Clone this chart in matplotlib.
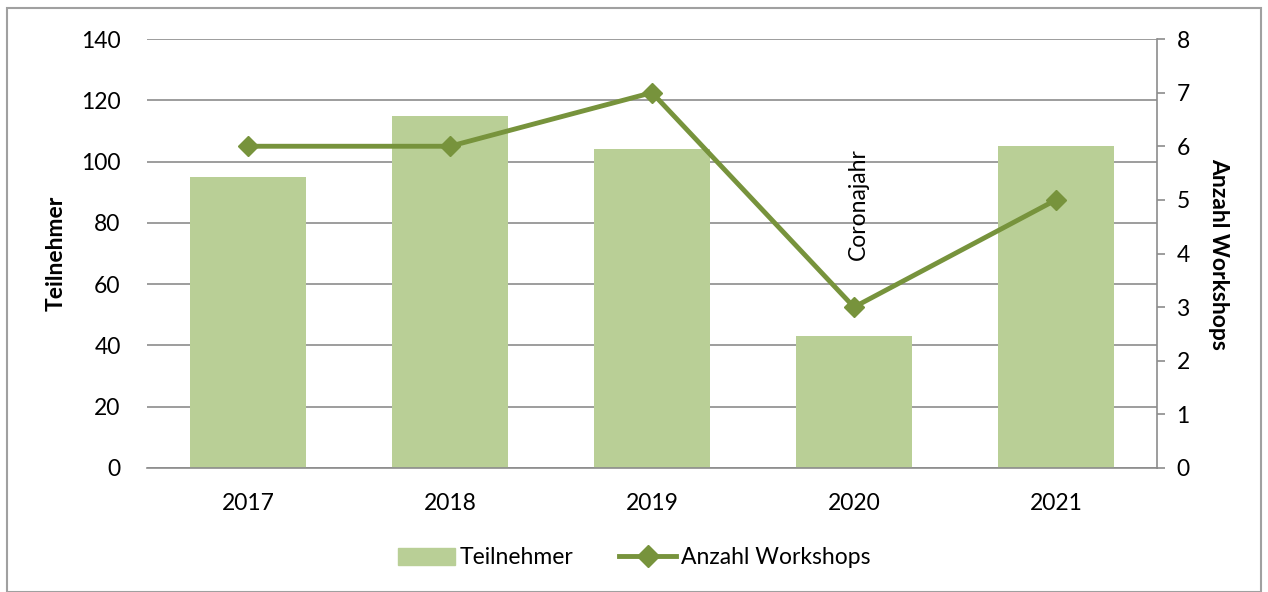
import matplotlib.pyplot as plt
import numpy as np
from matplotlib.patches import Rectangle
from matplotlib.lines import Line2D

years = ['2017', '2018', '2019', '2020', '2021']
teilnehmer = [95, 115, 104, 43, 105]
workshops = [6, 6, 7, 3, 5]

bar_color = '#B9CF96'
line_color = '#77933C'
grid_color = '#8C8C8C'

plt.rcParams['font.family'] = ['Lato', 'DejaVu Sans']
plt.rcParams['font.size'] = 16.5

fig = plt.figure(figsize=(12.68, 5.92), dpi=100)
ax = fig.add_axes([147 / 1268, 1 - 468 / 592, (1157 - 147) / 1268, (468 - 39) / 592])
ax2 = ax.twinx()

x = np.arange(len(years))
ax.bar(x, teilnehmer, width=0.57, color=bar_color, zorder=2, label='Teilnehmer')
ax.set_xlim(-0.5, len(years) - 0.5)
ax.set_ylim(0, 140)
ax.set_yticks(range(0, 141, 20))
ax.set_xticks(x)
ax.set_xticklabels(years)
ax.yaxis.grid(True, color=grid_color, linewidth=1.2, zorder=0)
ax.set_axisbelow(True)
for s in ['top', 'left', 'right']:
    ax.spines[s].set_visible(False)
ax.spines['bottom'].set_color(grid_color)
ax.spines['bottom'].set_linewidth(1.2)
ax.tick_params(axis='y', length=0, pad=19)
ax.tick_params(axis='x', length=0, pad=18)
ax.set_ylabel('Teilnehmer', fontweight='bold', labelpad=10)

ax2.plot(x, workshops, color=line_color, linewidth=3.5, marker='D', markersize=10,
         zorder=3, label='Anzahl Workshops')
ax2.set_ylim(0, 8)
ax2.set_yticks(range(0, 9))
for s in ['top', 'left', 'bottom']:
    ax2.spines[s].set_visible(False)
ax2.spines['right'].set_color(grid_color)
ax2.spines['right'].set_linewidth(1.2)
ax2.tick_params(axis='y', length=6, color=grid_color, width=1.2, pad=8)
ax2.set_ylabel('Anzahl Workshops', fontweight='bold', rotation=270, labelpad=28)

ax.text(3.02, 86, 'Coronajahr', rotation=90, ha='center', va='center', zorder=4)

handles = [Rectangle((0, 0), 1, 1, color=bar_color),
           Line2D([], [], color=line_color, linewidth=3.5, marker='D', markersize=11)]
fig.legend(handles, ['Teilnehmer', 'Anzahl Workshops'], loc='center',
           bbox_to_anchor=(0.5, 1 - 558 / 592), ncol=2, frameon=False,
           handlelength=2.5, handletextpad=0.2, columnspacing=2.0)

fig.patches.append(Rectangle((7 / 1268, 0), 1254 / 1268, 1 - 8 / 592, transform=fig.transFigure,
                             fill=False, edgecolor='#A0A0A0', linewidth=1.5))

fig.savefig('out.png', dpi=100)
